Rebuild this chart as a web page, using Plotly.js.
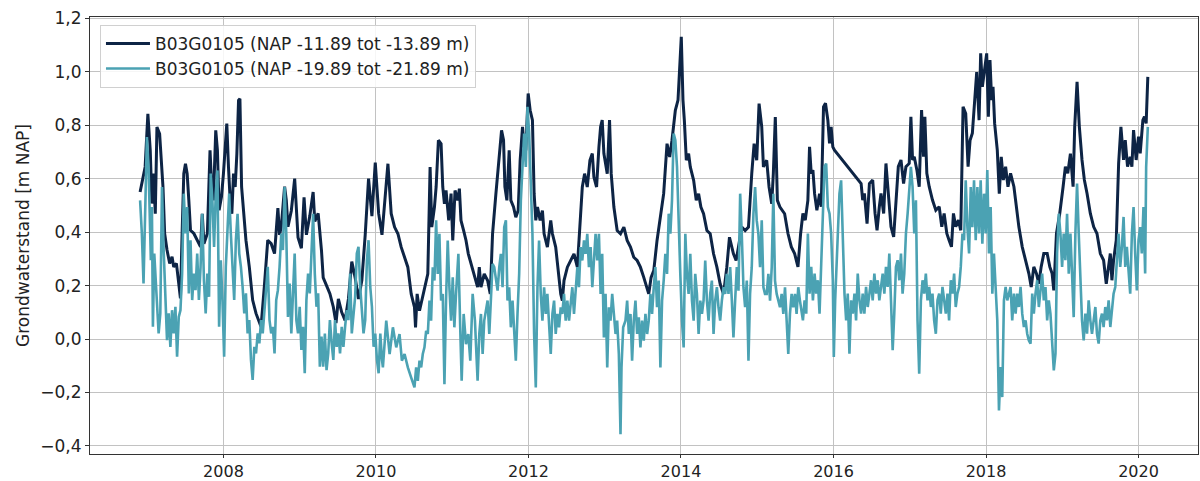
<!DOCTYPE html>
<html>
<head>
<meta charset="utf-8">
<script src="https://cdn.plot.ly/plotly-3.0.1.min.js"></script>
<style>html,body{margin:0;padding:0;background:#fff;}#chart{width:1200px;height:481px;}</style>
</head>
<body>
<div id="chart"></div>
<script>
// Series 1: B03G0105 (NAP -11.89 tot -13.89 m) — decimal year / m NAP
const deepYears = [
2006.907,2006.973,2007.009,2007.040,2007.062,2007.084,2007.106,2007.128,2007.163,2007.185,2007.207,2007.229,2007.260,2007.295,2007.326,2007.348,2007.383,2007.414,2007.436,2007.458,2007.480,2007.502,2007.524,2007.546,2007.568,2007.612,2007.656,2007.700,2007.722,2007.744,2007.789,2007.824,2007.846,2007.868,2007.899,2007.921,2007.943,2007.974,2008.000,2008.022,2008.044,2008.066,2008.088,2008.110,2008.132,2008.154,2008.176,2008.198,2008.216,2008.238,2008.260,2008.295,2008.339,2008.383,2008.427,2008.471,2008.493,2008.537,2008.581,2008.626,2008.670,2008.714,2008.736,2008.758,2008.802,2008.824,2008.846,2008.890,2008.934,2008.978,2009.022,2009.057,2009.088,2009.132,2009.176,2009.198,2009.242,2009.286,2009.308,2009.352,2009.396,2009.441,2009.476,2009.507,2009.551,2009.595,2009.639,2009.683,2009.727,2009.771,2009.815,2009.859,2009.903,2009.947,2009.991,2010.035,2010.079,
2010.157,2010.200,2010.244,2010.288,2010.331,2010.375,2010.418,2010.462,2010.505,2010.519,2010.540,2010.571,2010.601,2010.636,2010.680,2010.710,2010.732,2010.767,2010.789,2010.819,2010.854,2010.876,2010.898,2010.919,2010.954,2010.985,2011.007,2011.037,2011.072,2011.094,2011.115,2011.150,2011.181,2011.211,2011.246,2011.290,2011.333,2011.355,2011.377,2011.420,2011.464,2011.499,2011.529,2011.573,2011.617,2011.647,2011.673,2011.691,2011.717,2011.747,2011.769,2011.804,2011.834,2011.865,2011.891,2011.922,2011.943,2011.965,2011.996,2012.022,2012.052,2012.074,2012.096,2012.118,2012.153,2012.183,2012.205,2012.248,2012.292,2012.314,2012.357,2012.401,2012.423,2012.444,2012.466,2012.510,2012.553,2012.597,2012.641,2012.684,2012.706,2012.736,2012.771,2012.806,2012.837,2012.858,2012.893,2012.924,2012.946,2012.967,2012.989,2013.033,2013.063,2013.085,2013.120,2013.163,2013.207,2013.251,2013.294,2013.338,2013.381,2013.425,2013.468,2013.512,2013.556,2013.577,2013.608,2013.643,2013.686,2013.730,2013.773,2013.817,2013.852,2013.882,2013.926,2013.961,2013.983,2014.004,2014.026,2014.044,2014.070,2014.100,2014.122,2014.166,2014.200,2014.231,2014.261,2014.296,2014.340,2014.383,2014.427,2014.471,2014.514,2014.558,2014.601,2014.636,2014.688,2014.723,2014.754,2014.797,2014.841,2014.885,2014.928,2014.959,2014.993,2015.024,2015.059,2015.081,2015.124,2015.155,2015.190,2015.211,2015.237,2015.264,2015.298,
2015.359,2015.403,2015.447,2015.490,2015.534,2015.569,2015.599,2015.630,2015.664,2015.686,2015.708,2015.730,2015.752,2015.782,2015.817,2015.839,2015.869,2015.895,2015.926,2015.948,2015.969,2015.991,2016.013,2016.362,2016.383,2016.405,2016.440,2016.471,2016.514,2016.545,2016.571,2016.601,2016.623,2016.658,2016.688,2016.719,2016.754,2016.789,2016.819,2016.850,2016.885,2016.919,2016.950,2016.993,2017.015,2017.037,2017.059,2017.094,2017.124,2017.155,2017.181,2017.198,2017.224,2017.255,2017.298,2017.342,2017.386,2017.420,2017.451,2017.486,2017.516,2017.547,2017.573,2017.603,2017.638,2017.669,2017.699,2017.734,2017.765,2017.791,2017.821,2017.852,2017.878,2017.909,2017.930,2017.952,2017.983,2018.009,2018.031,2018.052,2018.074,2018.092,2018.113,2018.148,2018.174,2018.200,2018.227,2018.257,2018.288,2018.322,2018.366,2018.397,2018.431,2018.475,2018.519,2018.562,2018.593,2018.627,2018.662,2018.693,2018.723,2018.758,2018.802,2018.837,2018.867,2018.889,2018.924,2018.967,2019.011,2019.041,2019.072,2019.107,2019.142,2019.163,2019.194,2019.224,2019.259,2019.290,2019.325,2019.368,2019.412,2019.455,2019.499,2019.542,2019.577,2019.608,2019.630,2019.651,2019.673,2019.708,2019.739,2019.769,2019.804,2019.826,2019.856,2019.891,2019.913,2019.935,2019.969,2020.000,2020.022,2020.057,2020.078,2020.100,2020.122
];
const deepLevels = [
0.55,0.644,0.843,0.706,0.507,0.619,0.469,0.793,0.768,0.681,0.569,0.395,0.333,0.283,0.308,0.270,0.283,0.208,0.152,0.395,0.619,0.656,0.619,0.519,0.407,0.395,0.370,0.345,0.469,0.357,0.395,0.706,0.569,0.519,0.781,0.706,0.482,0.532,0.619,0.706,0.806,0.644,0.519,0.469,0.619,0.569,0.694,0.893,0.899,0.569,0.494,0.370,0.270,0.146,0.096,0.059,0.046,0.20,0.37,0.357,0.32,0.49,0.39,0.42,0.57,0.52,0.42,0.48,0.60,0.38,0.34,0.53,0.39,0.46,0.55,0.44,0.47,0.33,0.23,0.20,0.17,0.12,0.06,0.15,0.10,0.07,0.15,0.29,0.23,0.15,0.22,0.39,0.60,0.46,0.66,0.47,0.39,
0.656,0.469,0.419,0.394,0.344,0.306,0.269,0.169,0.119,0.044,0.169,0.106,0.144,0.19,0.244,0.644,0.419,0.494,0.569,0.744,0.731,0.569,0.506,0.556,0.444,0.544,0.369,0.556,0.519,0.563,0.444,0.406,0.369,0.319,0.281,0.244,0.194,0.269,0.194,0.244,0.219,0.169,0.394,0.544,0.694,0.781,0.744,0.569,0.519,0.706,0.519,0.494,0.456,0.481,0.669,0.794,0.719,0.706,0.919,0.856,0.819,0.544,0.444,0.494,0.444,0.481,0.394,0.344,0.444,0.394,0.344,0.219,0.169,0.144,0.219,0.269,0.294,0.319,0.269,0.444,0.569,0.619,0.569,0.669,0.694,0.606,0.569,0.719,0.794,0.819,0.694,0.619,0.819,0.619,0.494,0.406,0.394,0.419,0.369,0.344,0.306,0.294,0.269,0.231,0.194,0.169,0.231,0.256,0.369,0.456,0.544,0.731,0.681,0.744,0.856,0.894,1.019,1.131,0.894,0.819,0.669,0.694,0.644,0.594,0.519,0.544,0.494,0.469,0.406,0.394,0.319,0.269,0.206,0.169,0.269,0.381,0.319,0.294,0.344,0.419,0.406,0.419,0.619,0.731,0.669,0.881,0.794,0.644,0.669,0.569,0.506,0.619,0.831,0.519,0.494,
0.469,0.395,0.345,0.320,0.270,0.395,0.470,0.445,0.519,0.719,0.619,0.632,0.544,0.482,0.544,0.495,0.869,0.882,0.819,0.732,0.794,0.719,0.707,0.582,0.520,0.545,0.432,0.582,0.595,0.470,0.407,0.495,0.545,0.470,0.657,0.545,0.420,0.382,0.520,0.645,0.670,0.582,0.645,0.657,0.832,0.670,0.682,0.632,0.570,0.857,0.682,0.832,0.620,0.570,0.520,0.482,0.495,0.420,0.470,0.395,0.370,0.345,0.470,0.420,0.445,0.407,0.869,0.844,0.645,0.744,0.770,0.894,0.999,0.819,1.069,0.944,1.019,1.069,0.832,1.044,0.894,0.944,0.807,0.707,0.544,0.682,0.595,0.645,0.570,0.620,0.570,0.495,0.420,0.345,0.295,0.245,0.195,0.270,0.245,0.207,0.270,0.320,0.320,0.270,0.245,0.182,0.395,0.470,0.570,0.645,0.620,0.694,0.570,0.794,0.962,0.794,0.670,0.595,0.545,0.470,0.420,0.395,0.320,0.295,0.207,0.270,0.320,0.220,0.295,0.370,0.657,0.794,0.670,0.744,0.645,0.682,0.645,0.782,0.670,0.757,0.695,0.819,0.832,0.807,0.981
];

// Series 2: B03G0105 (NAP -19.89 tot -21.89 m)
const deeperYears = [
2006.907,2006.930,2006.952,2006.974,2006.996,2007.018,2007.031,2007.048,2007.062,2007.075,2007.093,2007.115,2007.128,2007.150,2007.172,2007.194,2007.216,2007.238,2007.260,2007.282,2007.304,2007.326,2007.348,2007.370,2007.392,2007.414,2007.436,2007.458,2007.480,2007.502,2007.524,2007.546,2007.568,2007.590,2007.612,2007.634,2007.656,2007.678,2007.700,2007.722,2007.744,2007.767,2007.789,2007.811,2007.833,2007.855,2007.877,2007.899,2007.921,2007.943,2007.965,2007.987,2008.009,2008.031,2008.053,2008.075,2008.097,2008.119,2008.141,2008.163,2008.185,2008.207,2008.229,2008.251,2008.273,2008.295,2008.317,2008.339,2008.361,2008.383,2008.405,2008.427,2008.449,2008.471,2008.493,2008.515,2008.537,2008.559,2008.581,2008.604,2008.626,2008.648,2008.670,2008.692,2008.714,2008.736,2008.758,2008.780,2008.802,2008.824,2008.846,2008.868,2008.890,2008.912,2008.934,2008.956,2008.978,2009.000,2009.022,2009.044,2009.066,2009.088,2009.110,2009.132,2009.154,2009.176,2009.198,2009.220,2009.242,2009.264,2009.286,2009.308,2009.330,2009.352,2009.374,2009.396,2009.419,2009.441,2009.463,2009.485,2009.507,2009.529,2009.551,2009.573,2009.595,2009.617,2009.639,2009.661,2009.683,2009.705,2009.727,2009.749,2009.771,2009.793,2009.815,2009.837,2009.859,2009.881,2009.903,2009.925,2009.947,2009.969,2009.991,2010.013,2010.035,2010.057,2010.079,
2010.091,2010.135,2010.179,2010.222,2010.266,2010.309,2010.340,2010.375,2010.418,2010.462,2010.505,2010.527,2010.549,2010.571,2010.593,2010.614,2010.636,2010.658,2010.680,2010.702,2010.723,2010.745,2010.767,2010.789,2010.810,2010.832,2010.854,2010.876,2010.898,2010.919,2010.941,2010.963,2010.985,2011.007,2011.028,2011.050,2011.081,2011.107,2011.124,2011.150,2011.181,2011.211,2011.237,2011.268,2011.298,2011.333,2011.355,2011.377,2011.399,2011.420,2011.464,2011.486,2011.508,2011.529,2011.551,2011.573,2011.595,2011.617,2011.638,2011.660,2011.682,2011.704,2011.725,2011.747,2011.769,2011.791,2011.813,2011.834,2011.856,2011.878,2011.900,2011.922,2011.943,2011.965,2011.987,2012.009,2012.031,2012.052,2012.074,2012.096,2012.118,2012.139,2012.161,2012.183,2012.205,2012.227,2012.248,2012.270,2012.292,2012.314,2012.336,2012.357,2012.379,2012.401,2012.423,2012.444,2012.466,2012.488,2012.510,2012.532,2012.553,2012.575,2012.597,2012.619,2012.641,2012.662,2012.684,2012.706,2012.728,2012.749,2012.771,2012.793,2012.815,2012.837,2012.858,2012.880,2012.902,2012.924,2012.946,2012.967,2012.989,2013.011,2013.033,2013.054,2013.076,2013.098,2013.120,2013.142,2013.163,2013.185,2013.207,2013.220,2013.242,2013.272,2013.294,2013.316,2013.338,2013.359,2013.381,2013.403,2013.425,2013.447,2013.468,2013.490,2013.512,2013.534,2013.556,2013.577,2013.599,2013.621,2013.643,2013.664,2013.686,2013.708,2013.730,2013.752,2013.773,2013.795,2013.817,2013.839,2013.861,2013.882,2013.904,2013.926,2013.948,2013.969,2013.991,2014.013,2014.035,2014.057,2014.078,2014.100,2014.122,2014.144,2014.166,2014.187,2014.209,2014.231,2014.253,2014.275,2014.296,2014.318,2014.340,2014.362,2014.383,2014.405,2014.427,2014.449,2014.471,2014.492,2014.514,2014.536,2014.558,2014.580,2014.601,2014.623,2014.645,2014.667,2014.688,2014.710,2014.732,2014.754,2014.776,2014.797,2014.819,2014.841,2014.863,2014.885,2014.906,2014.928,2014.950,2014.972,2014.993,2015.015,2015.037,2015.059,2015.081,2015.102,2015.124,2015.146,2015.168,2015.190,2015.211,2015.233,2015.255,2015.277,2015.298,2015.320,2015.342,2015.364,2015.386,2015.407,2015.429,2015.451,2015.473,2015.495,2015.516,2015.538,2015.560,
2015.599,2015.621,2015.643,2015.664,2015.686,2015.708,2015.730,2015.752,2015.773,2015.795,2015.817,2015.839,2015.861,2015.882,2015.904,2015.926,2015.948,2015.969,2015.991,2016.004,2016.022,2016.039,2016.057,2016.078,2016.100,2016.122,2016.144,2016.166,2016.187,2016.209,2016.231,2016.253,2016.275,2016.296,2016.318,2016.340,2016.362,2016.383,2016.405,2016.427,2016.449,2016.471,2016.492,2016.514,2016.536,2016.558,2016.580,2016.601,2016.623,2016.645,2016.667,2016.688,2016.710,2016.732,2016.754,2016.776,2016.797,2016.819,2016.841,2016.863,2016.885,2016.906,2016.928,2016.950,2016.972,2016.993,2017.015,2017.037,2017.059,2017.081,2017.102,2017.124,2017.146,2017.168,2017.190,2017.211,2017.233,2017.255,2017.277,2017.298,2017.320,2017.342,2017.364,2017.386,2017.407,2017.429,2017.451,2017.473,2017.495,2017.516,2017.538,2017.560,2017.582,2017.603,2017.625,2017.647,2017.669,2017.691,2017.712,2017.734,2017.756,2017.778,2017.800,2017.821,2017.843,2017.865,2017.887,2017.909,2017.930,2017.952,2017.974,2017.996,2018.017,2018.039,2018.061,2018.083,2018.104,2018.126,2018.148,2018.170,2018.192,2018.213,2018.235,2018.257,2018.279,2018.301,2018.322,2018.344,2018.366,2018.388,2018.409,2018.431,2018.453,2018.475,2018.497,2018.519,2018.540,2018.562,2018.584,2018.606,2018.627,2018.649,2018.671,2018.693,2018.714,2018.736,2018.758,2018.780,2018.802,2018.823,2018.845,2018.867,2018.889,2018.911,2018.932,2018.954,2018.976,2018.998,2019.019,2019.041,2019.063,2019.085,2019.107,2019.128,2019.150,2019.172,2019.194,2019.216,2019.237,2019.259,2019.281,2019.303,2019.325,2019.346,2019.368,2019.390,2019.412,2019.434,2019.455,2019.477,2019.499,2019.521,2019.542,2019.564,2019.586,2019.608,2019.630,2019.651,2019.673,2019.695,2019.717,2019.738,2019.760,2019.782,2019.804,2019.826,2019.847,2019.869,2019.891,2019.913,2019.935,2019.956,2019.978,2020.000,2020.022,2020.043,2020.065,2020.087,2020.100,2020.122
];
const deeperLevels = [
0.519,0.395,0.208,0.544,0.756,0.644,0.519,0.295,0.494,0.046,0.320,0.196,0.121,0.021,0.096,0.569,0.333,0.146,-0.004,0.096,-0.029,0.108,0.021,0.121,-0.066,0.083,0.108,0.245,0.544,0.395,0.494,0.171,0.370,0.146,0.245,0.183,0.320,0.146,0.270,0.469,0.220,0.096,0.245,0.158,0.619,0.519,0.345,0.544,0.631,0.046,0.295,0.146,-0.066,0.270,0.395,0.544,0.395,0.245,0.146,0.370,0.469,0.320,0.270,0.196,0.096,0.171,0.021,0.071,-0.078,-0.153,-0.029,-0.054,0.021,-0.016,0.071,0.021,0.096,0.171,0.270,0.071,0.021,0.046,-0.054,0.146,0.183,0.270,0.395,0.333,0.569,0.395,0.083,0.208,0.021,0.171,0.320,0.071,0.021,0.121,-0.041,0.046,-0.128,0.146,0.245,0.171,0.320,0.469,0.245,0.121,0.171,-0.103,0.009,-0.103,0.021,-0.116,-0.054,0.071,-0.016,-0.078,0.071,-0.029,0.021,-0.054,0.046,-0.029,0.046,0.108,0.071,0.245,0.021,0.096,0.158,0.320,0.345,0.196,0.121,0.021,0.071,0.295,0.370,0.196,0.121,-0.029,0.021,-0.078,-0.128,0.021,-0.078,
-0.106,0.069,-0.056,0.044,-0.031,0.019,-0.081,-0.056,-0.106,-0.144,-0.181,-0.106,-0.156,-0.081,-0.106,-0.056,-0.031,0.031,0.019,0.144,0.069,0.269,0.219,0.444,0.244,0.394,0.144,0.169,-0.169,0.144,0.369,0.194,0.069,0.231,0.044,0.169,0.319,0.019,-0.156,0.094,-0.019,0.019,-0.081,0.169,0.069,-0.156,0.019,0.094,-0.056,0.069,0.144,0.019,0.169,0.281,0.269,0.231,0.181,0.269,0.319,0.194,0.419,0.444,0.144,0.194,0.044,0.144,0.019,-0.081,0.094,0.244,0.519,0.669,0.769,0.644,0.869,0.769,0.569,0.394,0.019,-0.181,0.194,0.369,0.169,0.069,0.194,0.094,0.169,0.069,-0.056,0.094,0.144,0.019,0.094,0.044,0.119,0.094,0.169,0.069,0.144,0.069,0.119,0.194,0.094,0.169,0.269,0.194,0.344,0.294,0.369,0.319,0.394,0.269,0.344,0.194,0.319,0.394,0.294,0.394,0.169,0.319,0.006,0.169,-0.106,0.119,0.069,0.169,0.094,0.019,0.069,-0.056,-0.356,-0.106,0.044,0.069,0.144,0.019,0.094,-0.081,0.069,0.144,0.019,0.081,-0.031,0.069,-0.006,0.094,0.019,0.069,0.169,0.094,0.194,0.269,0.119,0.219,-0.106,0.144,0.219,0.319,0.244,0.469,0.394,0.519,0.769,0.744,0.644,0.394,0.244,0.069,-0.031,0.394,0.244,0.169,0.319,0.144,0.069,0.244,0.169,0.019,0.144,0.094,0.144,0.294,0.144,0.069,0.169,0.219,0.019,0.144,0.194,0.119,0.069,0.144,0.194,0.169,0.244,0.169,0.269,0.144,0.006,0.144,0.269,0.181,0.544,0.394,0.194,0.119,0.219,-0.081,0.169,0.269,0.469,0.569,0.444,0.394,0.269,0.444,0.194,0.169,0.169,0.244,0.144,0.269,0.544,0.219,0.169,0.144,0.119,0.169,0.094,0.194,0.069,-0.056,0.094,0.169,0.119,0.169,0.094,0.194,0.144,
0.070,0.145,0.095,0.395,0.170,0.270,0.145,0.245,0.170,0.220,0.095,0.282,0.469,0.644,0.657,0.494,0.469,0.395,0.220,-0.067,0.145,0.270,0.370,0.544,0.594,0.395,0.170,0.070,0.170,-0.055,0.145,0.095,0.170,0.070,0.245,0.145,0.095,0.170,0.095,0.195,0.120,0.170,0.220,0.145,0.245,0.170,0.220,0.145,0.195,0.245,0.170,0.270,0.195,0.320,0.145,-0.042,0.095,0.270,0.295,0.220,0.320,0.170,0.245,0.395,0.469,0.569,0.644,0.569,0.395,0.519,0.070,-0.130,0.145,0.220,0.170,0.245,0.145,0.195,0.120,0.170,0.070,0.020,0.145,0.170,0.095,0.195,0.145,0.095,0.170,0.070,0.220,0.170,0.245,0.120,0.170,0.195,0.270,0.395,0.370,0.594,0.419,0.320,0.569,0.419,0.594,0.370,0.569,0.395,0.594,0.357,0.544,0.395,0.632,0.320,0.494,0.170,0.320,0.170,0.070,-0.267,-0.105,-0.217,0.145,0.195,0.145,0.170,0.195,0.070,0.170,0.095,0.170,0.120,0.195,0.095,0.045,0.070,0.020,-0.005,-0.017,0.170,0.095,0.170,0.220,0.120,0.170,0.245,0.145,0.195,0.070,0.145,0.095,-0.030,-0.117,-0.055,0.320,0.469,0.395,0.270,0.395,0.295,0.469,0.245,0.395,0.245,0.082,0.395,0.582,0.395,0.195,0.070,-0.005,0.095,0.020,0.145,0.070,0.020,0.070,0.120,0.020,-0.017,0.070,0.095,0.045,0.120,0.070,0.145,0.045,0.095,0.170,0.195,0.320,0.395,0.270,0.345,0.457,0.270,0.345,0.245,0.170,0.395,0.494,0.320,0.182,0.370,0.419,0.320,0.494,0.245,0.644,0.794
];

const seriesNames = ['B03G0105 (NAP -11.89 tot -13.89 m)', 'B03G0105 (NAP -19.89 tot -21.89 m)'];
const xTickVals = [2008, 2010, 2012, 2014, 2016, 2018, 2020];
const xTickText = ['2008', '2010', '2012', '2014', '2016', '2018', '2020'];
const yTickVals = [-0.4, -0.2, 0.0, 0.2, 0.4, 0.6, 0.8, 1.0, 1.2];
const yTickText = ['\u22120,4', '\u22120,2', '0,0', '0,2', '0,4', '0,6', '0,8', '1,0', '1,2'];
const yAxisTitle = 'Grondwaterstand [m NAP]';

const FONT = 'DejaVu Sans, Liberation Sans, sans-serif';

const traces = [
  { x: deepYears, y: deepLevels, type: 'scatter', mode: 'lines', name: seriesNames[0],
    line: { color: '#0d2445', width: 3 } },
  { x: deeperYears, y: deeperLevels, type: 'scatter', mode: 'lines', name: seriesNames[1],
    line: { color: '#4ba2b3', width: 2.6 } }
];

const axisCommon = {
  showline: true, mirror: true, linecolor: '#333', linewidth: 1,
  showgrid: true, gridcolor: '#c2c2c2', gridwidth: 1,
  zeroline: false, ticks: 'outside', ticklen: 4, tickcolor: '#333',
  tickfont: { family: FONT, size: 17, color: '#222' }
};

const layout = {
  width: 1200, height: 481,
  margin: { l: 90, r: 2, t: 17, b: 27 },
  paper_bgcolor: '#fff', plot_bgcolor: '#fff',
  font: { family: FONT, size: 17, color: '#222' },
  showlegend: true,
  legend: {
    x: 0.009, y: 0.982, xanchor: 'left', yanchor: 'top',
    bgcolor: 'rgba(255,255,255,0.85)', bordercolor: '#d0d0d0', borderwidth: 1,
    itemwidth: 44,
    font: { family: FONT, size: 17, color: '#222' }
  },
  xaxis: Object.assign({}, axisCommon, {
    range: [2006.25, 2020.78], tickvals: xTickVals, ticktext: xTickText,
    ticklen: 3, tickfont: { family: FONT, size: 16, color: '#222' }
  }),
  yaxis: Object.assign({}, axisCommon, {
    range: [-0.43, 1.205], tickvals: yTickVals, ticktext: yTickText,
    title: { text: yAxisTitle, font: { family: FONT, size: 17, color: '#222' }, standoff: 6 }
  })
};

Plotly.newPlot('chart', traces, layout, { staticPlot: true, displayModeBar: false });
</script>
</body>
</html>
